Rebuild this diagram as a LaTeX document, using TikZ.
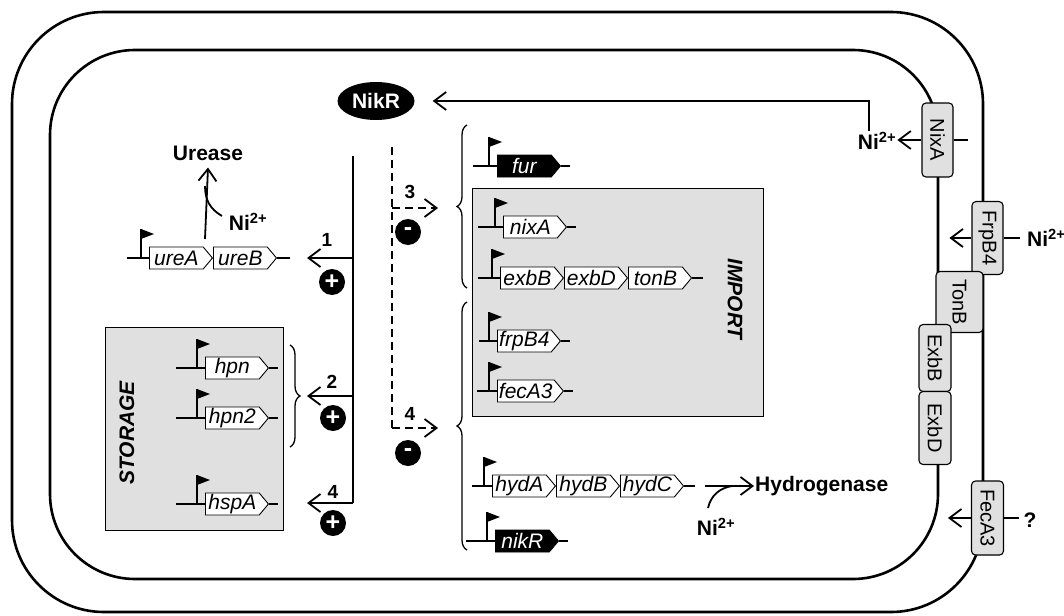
\documentclass[tikz,border=0pt]{standalone}
\usepackage{fontspec}
\setmainfont{Liberation Sans}
\usetikzlibrary{arrows.meta,positioning,shapes.geometric,shapes.symbols,decorations.pathreplacing}
\newcommand\lblfont{\fontsize{21}{24}\selectfont\bfseries}
\newcommand\genefont{\fontsize{21}{22}\selectfont\itshape}
\tikzset{
  wall/.style={line width=2.6pt},
  link/.style={line width=1.8pt},
  arrow/.style={link,-{Straight Barb[length=12pt,width=18pt]}},
  gene/.style={signal,signal to=east,signal pointer angle=100,draw,line width=0.9pt,
    fill=white,minimum height=22pt,minimum width=63pt,inner xsep=1.5pt,inner ysep=0pt,
    font=\genefont,anchor=west},
  lbl/.style={font=\lblfont,inner sep=1pt},
  num/.style={font=\fontsize{19}{22}\selectfont\bfseries,inner sep=1pt},
  sign/.style={circle,fill=black,text=white,minimum size=26pt,inner sep=0pt,
    font=\fontsize{25}{25}\selectfont\bfseries},
  box/.style={draw,line width=1.1pt,fill=black!12,anchor=north west},
  prot/.style={draw,line width=1.1pt,fill=black!12,rounded corners=4pt,inner sep=0pt,
    font=\fontsize{20}{24}\selectfont},
  brace/.style={line width=1.3pt,decorate,decoration={brace,amplitude=10pt}},
  prom/.pic={\draw[link] (0,0) -- (0,-29); \fill (0,-29) -- (13,-24) -- (0,-19) -- cycle;}
}
\begin{document}
\begin{tikzpicture}[x=1pt,y=-1pt]
\useasboundingbox (0,0) rectangle (1064,615);
% cell envelope
\draw[wall,rounded corners=92pt] (12,12) rectangle (983,612);
\draw[wall,rounded corners=85pt] (50,50) rectangle (938,579);
% gene groups
\node[box,minimum width=178pt,minimum height=203pt] (storage) at (105,327) {};
\node[lbl,font=\lblfont\itshape,rotate=90] (storlbl) at (127,433) {STORAGE};
\node[box,minimum width=291pt,minimum height=228pt] (import) at (472,188) {};
\node[lbl,font=\lblfont\itshape,rotate=-90] (implbl) at (735,299) {IMPORT};
% regulator
\node[ellipse,fill=black,text=white,minimum width=77pt,minimum height=38pt,inner sep=0pt,
  font=\lblfont] (nikr) at (376,101) {NikR};
% urease operon
\coordinate (ure0) at (127,258);
\node[gene] (ureA) at (149,258) {ureA};
\node[gene,right=0pt of ureA] (ureB) {ureB};
\draw[link] (ure0) -- (ureA.west);
\pic at (141,258) {prom};
\draw[link] (ureB.east) -- ++(13,0);
\node[lbl] (urease) at (208,153) {Urease};
\node[lbl] (niu) at (248,222) {Ni\textsuperscript{2+}};
\coordinate (urestart) at (205,239);
\coordinate (nic) at (222,216);
\draw[arrow] (urestart) -- ([yshift=-6pt]urease.south);
\draw[link] (nic) .. controls (210,209) and (205,200) .. (205,186);
% single genes
\foreach \n/\x/\g/\y/\f/\t in {hpn/176/205/368/white/black, hpn2/176/205/418/white/black,
    hspA/176/205/504/white/black, fur/473/497/166/black/white, nixA/478/503/227/white/black,
    frpB4/479/497/341/white/black, fecA3/477/497/391/white/black, nikR/466/495/541/black/white}{
  \coordinate (\n0) at (\x,\y);
  \node[gene,fill=\f,text=\t] (\n) at (\g,\y) {\n};
  \draw[link] (\n0) -- (\n.west);
  \pic at (\g-8,\y) {prom};
  \draw[link] (\n.east) -- ++(9,0);
}
% exb operon
\coordinate (exb0) at (478,278);
\node[gene] (exbB) at (500,278) {exbB};
\node[gene,right=0pt of exbB] (exbD) {exbD};
\node[gene,right=0pt of exbD] (tonB) {tonB};
\draw[link] (exb0) -- (exbB.west);
\pic at (492,278) {prom};
\draw[link] (tonB.east) -- ++(11,0);
% hyd operon
\coordinate (hyd0) at (472,486);
\node[gene] (hydA) at (492,486) {hydA};
\node[gene,right=0pt of hydA] (hydB) {hydB};
\node[gene,right=0pt of hydB] (hydC) {hydC};
\draw[link] (hyd0) -- (hydA.west);
\pic at (484,486) {prom};
\draw[link] (hydC.east) -- ++(11,0);
\node[lbl,anchor=west] (hydro) at (754,486) {Hydrogenase};
\node[lbl] (nih) at (716,527) {Ni\textsuperscript{2+}};
\coordinate (hyd1) at (705,486);
\coordinate (nihc) at (708,508);
\draw[arrow] (hyd1) -- (hydro.west);
\draw[link] (nihc) .. controls (711,495) and (720,488) .. (732,486);
% braces
\draw[brace] (290,345) -- (290,447);
\draw[brace] (467,288) -- (467,125);
\draw[brace] (467,550) -- (467,302);
% activation (solid) and repression (dashed)
\coordinate (act) at (353,156);
\coordinate (a1) at (307,258);
\coordinate (a2) at (307,396);
\coordinate (a4) at (307,503);
\draw[link] (act) -- (act |- a4);
\foreach \t in {a1,a2,a4} \draw[arrow] (act |- \t) -- (\t);
\coordinate (rep) at (392,147);
\coordinate (r3) at (438,208);
\coordinate (r4) at (438,428);
\draw[link,dash pattern=on 8pt off 5pt] (rep) -- (rep |- r4);
\foreach \t in {r3,r4} \draw[arrow,dash pattern=on 8pt off 5pt] (rep |- \t) -- (\t);
\node[num] (n1) at (327,240) {1};
\node[num] (n2) at (332,382) {2};
\node[num] (n4) at (333,492) {4};
\node[num] (m3) at (410,192) {3};
\node[num] (m4) at (410,414) {4};
\node[sign] (p1) at (332,282) {+};
\node[sign] (p2) at (333,418) {+};
\node[sign] (p4) at (333,523) {+};
\node[sign] (s3) at (408,232) {-};
\node[sign] (s4) at (408,453) {-};
% membrane proteins
\node[prot,minimum width=31pt,minimum height=74pt] (nixa) at (937.5,140) {\rotatebox{-90}{NixA}};
\node[prot,minimum width=31pt,minimum height=73pt] (frpb4) at (987.5,238) {\rotatebox{-90}{FrpB4}};
\node[prot,minimum width=47pt,minimum height=61pt] (tonb) at (959.5,302) {\rotatebox{-90}{TonB}};
\node[prot,minimum width=32pt,minimum height=67pt] (exbb) at (935,358) {\rotatebox{-90}{ExbB}};
\node[prot,minimum width=32pt,minimum height=73pt] (exbd) at (935,428) {\rotatebox{-90}{ExbD}};
\node[prot,minimum width=32pt,minimum height=74pt] (feca3) at (987.5,518) {\rotatebox{-90}{FecA3}};
% nickel transport
\node[lbl] (ni1) at (877,141) {Ni\textsuperscript{2+}};
\draw[arrow] (nixa.west) -- (nixa.west -| ni1.east);
\draw[link] (nixa.east) -- ++(14,0);
\draw[arrow] ([xshift=-8pt]ni1.north) |- ([xshift=18pt]nikr.east);
\node[lbl,anchor=west] (ni2) at (1026,238) {Ni\textsuperscript{2+}};
\draw[link,shorten >=6pt] (frpb4.east) -- (frpb4.east -| ni2.west);
\draw[arrow] (frpb4.west) -- ++(-22,0);
\node[lbl] (qm) at (1030,520) {?};
\draw[link,shorten >=3pt] (feca3.east) -- (feca3.east -| qm.west);
\draw[arrow] (feca3.west) -- ++(-23,0);
\end{tikzpicture}
\end{document}
